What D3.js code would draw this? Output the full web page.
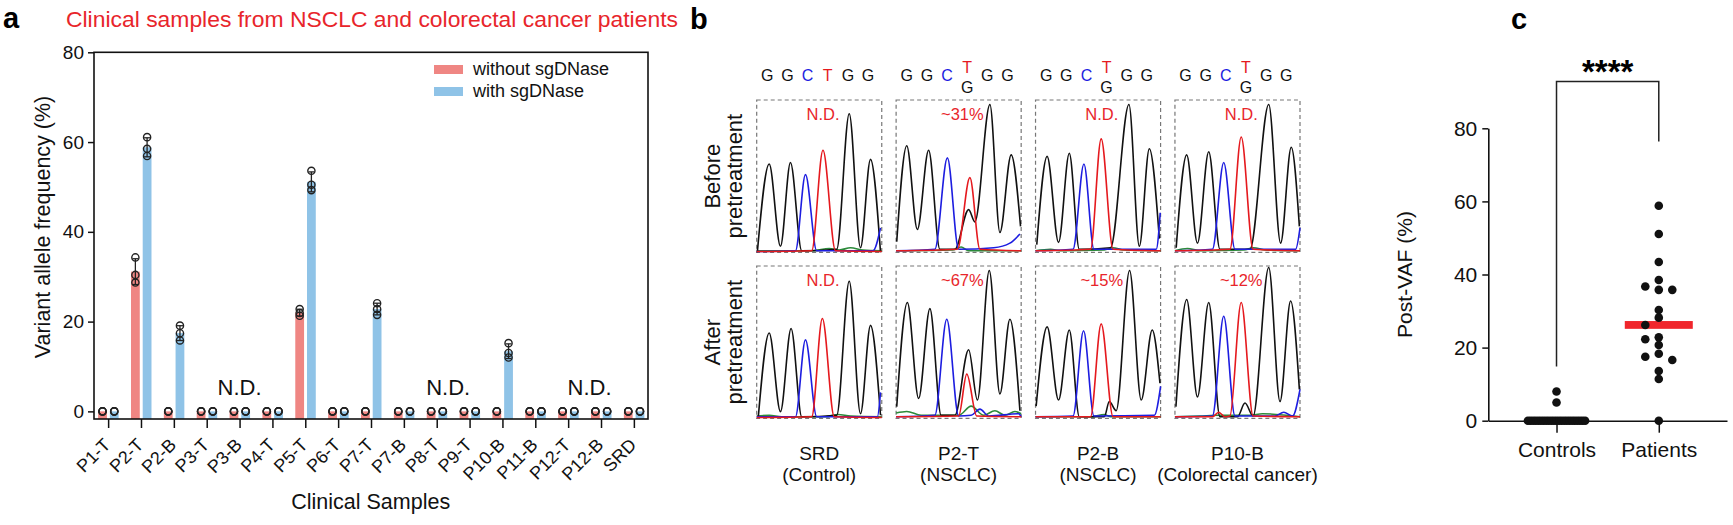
<!DOCTYPE html>
<html>
<head>
<meta charset="utf-8">
<script src="https://cdn.jsdelivr.net/npm/d3@7"></script>
<style>
  body { margin: 0; background: #fff; }
  svg { display: block; font-family: "Liberation Sans", Arial, sans-serif; }
</style>
</head>
<body>
<svg id="fig" width="1733" height="525"></svg>
<script>
// ---------- panel a data
const samples = ["P1-T","P2-T","P2-B","P3-T","P3-B","P4-T","P5-T","P6-T","P7-T","P7-B","P8-T","P9-T","P10-B","P11-B","P12-T","P12-B","SRD"];
const withoutSg = [[0,0,0],[34.3,30.4,28.7],[0,0,0],[0,0,0],[0,0,0],[0,0,0],[22.8,21.9,21.3],[0,0,0],[0,0,0],[0,0,0],[0,0,0],[0,0,0],[0,0,0],[0,0,0],[0,0,0],[0,0,0],[0,0,0]];
const withSg = [[0,0,0],[61.1,58.5,56.9],[19.1,17.4,15.8],[0,0,0],[0,0,0],[0,0,0],[53.6,50.5,49.3],[0,0,0],[24.1,22.8,21.5],[0,0,0],[0,0,0],[0,0,0],[15.2,13.0,12.0],[0,0,0],[0,0,0],[0,0,0],[0,0,0]];
const yTicksA = [0, 20, 40, 60, 80];
const ndAt = [4, 10.35, 14.65];   // N.D. labels, in sample-index units

// ---------- panel b data
const bSamples = ["SRD","P2-T","P2-B","P10-B"];
const bGroups = ["(Control)","(NSCLC)","(NSCLC)","(Colorectal cancer)"];
const refSeq = ["G","G","C","T","G","G"];
const altBase = [null,"G","G","G"];
const beforeVaf = ["N.D.","~31%","N.D.","N.D."];
const afterVaf = ["N.D.","~67%","~15%","~12%"];

// traces: [x fraction of box, height fraction of box]
const traceSRDBefore = {
  G: [[0.005,0],[0.10,0.58],[0.19,0.04],[0.27,0.59],[0.36,0.01],[0.64,0.02],[0.74,0.91],[0.83,0.03],[0.91,0.61],[0.99,0]],
  C: [[0,0.005],[0.31,0.01],[0.39,0.51],[0.48,0.01],[0.93,0.01],[0.99,0.16]],
  T: [[0,0.005],[0.44,0.01],[0.53,0.67],[0.63,0.01],[1,0.005]],
  A: [[0,0.01],[0.45,0.01],[0.58,0.025],[0.66,0.015],[0.75,0.03],[0.85,0.015],[1,0.01]]
};
const traceP2TBefore = {
  G: [[0.005,0.07],[0.085,0.70],[0.17,0.15],[0.26,0.67],[0.35,0.02],[0.47,0.02],[0.58,0.28],[0.63,0.2],[0.75,0.97],[0.83,0.13],[0.92,0.64],[0.995,0.17]],
  C: [[0,0.01],[0.31,0.02],[0.41,0.62],[0.5,0.02],[0.78,0.03],[0.91,0.06],[0.99,0.12]],
  T: [[0,0.01],[0.49,0.02],[0.59,0.49],[0.67,0.02],[1,0.01]],
  A: [[0,0.01],[0.45,0.015],[0.52,0.035],[0.58,0.01],[1,0.01]]
};
const traceP2BBefore = {
  G: [[0.01,0.05],[0.093,0.63],[0.184,0.065],[0.27,0.65],[0.35,0.02],[0.6,0.03],[0.747,0.97],[0.83,0.04],[0.91,0.68],[0.99,0.09]],
  C: [[0,0.01],[0.3,0.02],[0.387,0.58],[0.467,0.02],[0.965,0.02],[0.997,0.26]],
  T: [[0,0.01],[0.44,0.02],[0.525,0.745],[0.62,0.02],[1,0.01]],
  A: [[0,0.01],[0.12,0.02],[0.2,0.01],[0.55,0.015],[0.62,0.03],[0.7,0.015],[1,0.01]]
};
const traceP10BBefore = {
  G: [[0.01,0.03],[0.094,0.64],[0.18,0.06],[0.27,0.66],[0.36,0.02],[0.6,0.02],[0.75,0.97],[0.845,0.06],[0.93,0.69],[0.995,0.17]],
  C: [[0,0.01],[0.30,0.02],[0.39,0.59],[0.48,0.02],[0.965,0.02],[1,0.16]],
  T: [[0,0.01],[0.44,0.02],[0.53,0.757],[0.625,0.02],[1,0.01]],
  A: [[0,0.01],[0.1,0.025],[0.2,0.01],[0.55,0.015],[0.63,0.03],[0.72,0.015],[1,0.01]]
};
const traceSRDAfter = {
  G: [[0.013,0.01],[0.10,0.56],[0.19,0.044],[0.275,0.59],[0.36,0.01],[0.64,0.02],[0.74,0.90],[0.83,0.03],[0.91,0.61],[0.99,0.02]],
  C: [[0,0.01],[0.31,0.01],[0.39,0.515],[0.48,0.01],[0.965,0.01],[0.99,0.17]],
  T: [[0,0.005],[0.44,0.01],[0.525,0.655],[0.62,0.01],[1,0.005]],
  A: [[0,0.015],[0.1,0.02],[0.2,0.01],[0.55,0.01],[0.65,0.025],[0.75,0.015],[1,0.01]]
};
const traceP2TAfter = {
  G: [[0.005,0.077],[0.09,0.76],[0.18,0.13],[0.27,0.72],[0.36,0.02],[0.47,0.02],[0.58,0.45],[0.65,0.12],[0.745,0.97],[0.83,0.16],[0.91,0.65],[0.99,0.05]],
  C: [[0,0.01],[0.31,0.02],[0.405,0.65],[0.5,0.015],[0.6,0.02],[0.67,0.06],[0.74,0.015],[0.98,0.03],[1,0.01]],
  T: [[0,0.01],[0.5,0.015],[0.565,0.29],[0.645,0.015],[1,0.01]],
  A: [[0,0.035],[0.085,0.045],[0.2,0.02],[0.5,0.02],[0.60,0.08],[0.70,0.02],[0.79,0.05],[0.87,0.02],[0.95,0.045],[1,0.03]]
};
const traceP2BAfter = {
  G: [[0.005,0.08],[0.093,0.60],[0.184,0.12],[0.27,0.58],[0.35,0.01],[0.55,0.01],[0.59,0.11],[0.645,0.05],[0.752,0.97],[0.845,0.12],[0.933,0.58],[0.995,0.23]],
  C: [[0,0.01],[0.3,0.015],[0.384,0.575],[0.467,0.015],[0.95,0.02],[1,0.21]],
  T: [[0,0.01],[0.44,0.01],[0.525,0.62],[0.62,0.01],[1,0.01]],
  A: [[0,0.01],[0.45,0.01],[0.55,0.025],[0.6,0.01],[1,0.01]]
};
const traceP10BAfter = {
  G: [[0.008,0.077],[0.094,0.78],[0.18,0.14],[0.27,0.76],[0.36,0.01],[0.5,0.01],[0.56,0.10],[0.625,0.015],[0.75,0.99],[0.84,0.11],[0.925,0.77],[0.995,0.19]],
  C: [[0,0.01],[0.30,0.015],[0.39,0.67],[0.48,0.015],[0.8,0.015],[0.87,0.04],[0.94,0.015],[1,0.19]],
  T: [[0,0.01],[0.30,0.01],[0.35,0.04],[0.40,0.01],[0.44,0.015],[0.53,0.76],[0.625,0.015],[1,0.01]],
  A: [[0,0.01],[0.2,0.015],[0.35,0.02],[0.6,0.02],[0.7,0.03],[1,0.01]]
};

// ---------- panel c data
const groupsC = ["Controls","Patients"];
const controls = [8,5,0,0,0,0,0,0,0,0,0,0,0,0,0,0,0,0,0,0,0,0,0,0,0];
const patients = [58.8,51.1,43.4,38.5,36.7,35.8,35.8,30.3,28.2,26.2,22.8,22.3,20.7,18.3,17.5,16.6,13.6,11.4,0];
const yTicksC = [0, 20, 40, 60, 80];

const pink = "#ef8683", blue = "#8fc3e7", red = "#e8252b";
const svg = d3.select("#fig");

function styleAxis(g, size) {
  g.attr("font-family", null).attr("font-size", size);
  g.selectAll(".tick line").attr("stroke", "#111").attr("stroke-width", 1.5);
  g.selectAll(".tick text").attr("fill", "#111");
}

// ================= panel a
const xA = d3.scalePoint().domain(samples).range([94, 648]).padding(0.43);
const yA = d3.scaleLinear().domain([-1.7, 80]).range([419, 52.3]);
const xSub = d3.scaleBand().domain(["without","with"]).range([-10, 10.5]).paddingInner(0.25);
const seriesA = [
  {key: "without", vals: withoutSg, color: pink},
  {key: "with", vals: withSg, color: blue}
];

const gA = svg.append("g");
gA.append("text").attr("x", 3).attr("y", 28).attr("font-size", 29).attr("font-weight", "bold").text("a");
gA.append("text").attr("x", 66).attr("y", 27).attr("font-size", 22.9).attr("fill", red)
  .text("Clinical samples from NSCLC and colorectal cancer patients");

seriesA.forEach(s => {
  const g = gA.append("g");
  samples.forEach((name, i) => {
    const v = s.vals[i], m = d3.mean(v), sd = d3.deviation(v);
    const cx = xA(name) + xSub(s.key) + xSub.bandwidth() / 2;
    g.append("rect")
      .attr("x", xA(name) + xSub(s.key)).attr("width", xSub.bandwidth())
      .attr("y", yA(m)).attr("height", yA(-1.7) - yA(m))
      .attr("fill", s.color);
    if (sd > 0) {
      g.append("line").attr("x1", cx).attr("x2", cx).attr("y1", yA(m - sd)).attr("y2", yA(m + sd))
        .attr("stroke", "#222").attr("stroke-width", 1.3);
      [m - sd, m + sd].forEach(e => g.append("line")
        .attr("x1", cx - 3).attr("x2", cx + 3).attr("y1", yA(e)).attr("y2", yA(e))
        .attr("stroke", "#222").attr("stroke-width", 1.3));
    }
    g.selectAll(null).data(v).join("circle")
      .attr("cx", cx).attr("cy", d => yA(d)).attr("r", 3.6)
      .attr("fill", "none").attr("stroke", "#222").attr("stroke-width", 1.4);
  });
});

gA.append("rect")
  .attr("x", 94).attr("y", yA(80)).attr("width", 648 - 94).attr("height", yA(-1.7) - yA(80))
  .attr("fill", "none").attr("stroke", "#111").attr("stroke-width", 1.6);

gA.append("g").attr("transform", "translate(94,0)")
  .call(d3.axisLeft(yA).tickValues(yTicksA).tickSize(6).tickPadding(4))
  .call(g => g.select(".domain").remove())
  .call(g => styleAxis(g, 19));

gA.append("g").attr("transform", `translate(0,${yA(-1.7)})`)
  .call(d3.axisBottom(xA).tickSize(9))
  .call(g => g.select(".domain").remove())
  .call(g => styleAxis(g, 18))
  .call(g => g.selectAll(".tick text")
    .attr("text-anchor", "end").attr("dy", null).attr("y", null)
    .attr("transform", "translate(3,27) rotate(-45)"));

const ndX = d3.scaleLinear().domain([0, samples.length - 1]).range([xA(samples[0]), xA(samples[samples.length - 1])]);
gA.selectAll(".nd").data(ndAt).join("text")
  .attr("x", d => ndX(d)).attr("y", 395).attr("text-anchor", "middle")
  .attr("font-size", 22).attr("fill", "#111").text("N.D.");

// legend
const legA = gA.append("g").attr("transform", "translate(434,65)");
seriesA.forEach((s, i) => {
  legA.append("rect").attr("x", 0).attr("y", i * 22).attr("width", 29).attr("height", 9).attr("fill", s.color);
  legA.append("text").attr("x", 39).attr("y", i * 22 + 10).attr("font-size", 18).attr("fill", "#111")
    .text(s.key === "without" ? "without sgDNase" : "with sgDNase");
});

gA.append("text").attr("transform", "translate(50,227) rotate(-90)").attr("text-anchor", "middle")
  .attr("font-size", 21.5).attr("fill", "#111").text("Variant allele frequency (%)");
gA.append("text").attr("x", xA("P8-T") - 66).attr("y", 509).attr("text-anchor", "middle")
  .attr("font-size", 21.5).attr("fill", "#111").text("Clinical Samples");

// ================= panel b
const colB = d3.scaleBand().domain(bSamples).range([756.7, 1300]).paddingInner(0.103);
const rowB = d3.scaleBand().domain(["Before","After"]).range([100, 418.3]).paddingInner(0.0825);
const letterPos = d3.scalePoint().domain(d3.range(refSeq.length)).range([0.085, 0.89]);
const baseColor = {G: "#111", C: "#1d1de0", T: "#e5191e", A: "#2b8a3a"};
const traces = {
  Before: [traceSRDBefore, traceP2TBefore, traceP2BBefore, traceP10BBefore],
  After: [traceSRDAfter, traceP2TAfter, traceP2BAfter, traceP10BAfter]
};
const vafText = {Before: beforeVaf, After: afterVaf};

const gB = svg.append("g");
gB.append("text").attr("x", 690).attr("y", 29).attr("font-size", 29).attr("font-weight", "bold").text("b");

bSamples.forEach((name, i) => {
  const x0 = colB(name), bw = colB.bandwidth();
  const xT = d3.scaleLinear().domain([0, 1]).range([x0, x0 + bw]);

  // sequence above
  refSeq.forEach((b, k) => {
    const lx = xT(letterPos(k));
    if (altBase[i] && b === "T") {
      gB.append("text").attr("x", lx).attr("y", 73).attr("text-anchor", "middle")
        .attr("font-size", 16).attr("fill", baseColor.T).text("T");
      gB.append("text").attr("x", lx).attr("y", 93).attr("text-anchor", "middle")
        .attr("font-size", 16).attr("fill", baseColor[altBase[i]]).text(altBase[i]);
    } else {
      gB.append("text").attr("x", lx).attr("y", 81).attr("text-anchor", "middle")
        .attr("font-size", 16).attr("fill", baseColor[b]).text(b);
    }
  });

  rowB.domain().forEach(row => {
    const y0 = rowB(row), bh = rowB.bandwidth();
    const yT = d3.scaleLinear().domain([0, 1]).range([y0 + bh, y0]);
    const line = d3.line().x(d => xT(d[0])).y(d => yT(d[1])).curve(d3.curveMonotoneX);
    gB.append("rect").attr("x", x0).attr("y", y0).attr("width", bw).attr("height", bh)
      .attr("fill", "none").attr("stroke", "#777").attr("stroke-width", 1.2).attr("stroke-dasharray", "4,3");
    const tr = traces[row][i];
    ["A", "G", "C", "T"].forEach(ch => {
      gB.append("path").datum(tr[ch]).attr("d", line)
        .attr("fill", "none").attr("stroke", baseColor[ch]).attr("stroke-width", 1.6);
    });
    gB.append("text").attr("x", xT(0.53)).attr("y", y0 + 20).attr("text-anchor", "middle")
      .attr("font-size", 16.5).attr("fill", red).text(vafText[row][i]);
  });

  const cx = x0 + bw / 2;
  gB.append("text").attr("x", cx).attr("y", 460).attr("text-anchor", "middle")
    .attr("font-size", 19).attr("fill", "#111").text(name);
  gB.append("text").attr("x", cx).attr("y", 481).attr("text-anchor", "middle")
    .attr("font-size", 19).attr("fill", "#111").text(bGroups[i]);
});

rowB.domain().forEach(row => {
  const cy = rowB(row) + rowB.bandwidth() / 2;
  const t = gB.append("text").attr("transform", `translate(711,${cy}) rotate(-90)`)
    .attr("text-anchor", "middle").attr("font-size", 22).attr("fill", "#111");
  t.append("tspan").attr("x", 0).attr("dy", 9).text(row);
  t.append("tspan").attr("x", 0).attr("dy", 22).text("pretreatment");
});

// ================= panel c
const xC = d3.scalePoint().domain(groupsC).range([1488.3, 1727]).padding(0.667);
const yC = d3.scaleLinear().domain([0, 80]).range([420.7, 128.3]);

function swarm(vals, step, minD) {
  const placed = [];
  return vals.slice().sort((a, b) => b - a).map(v => {
    const y = yC(v);
    for (let k = 0; k < 200; k++) {
      const m = Math.ceil(k / 2);
      const off = k === 0 ? 0 : (k % 2 ? -m : m) * step;
      if (!placed.some(p => Math.hypot(p.dx - off, p.y - y) < minD)) {
        const p = {v, y, dx: off};
        placed.push(p);
        return p;
      }
    }
  });
}

const gC = svg.append("g");
gC.append("text").attr("x", 1511).attr("y", 29).attr("font-size", 29).attr("font-weight", "bold").text("c");

// significance bracket
const bx1 = xC("Controls"), bx2 = xC("Patients");
gC.append("path")
  .attr("d", `M${bx1},${yC(14.8)}V${yC(92.8)}H${bx2}V${yC(76.4)}`)
  .attr("fill", "none").attr("stroke", "#222").attr("stroke-width", 1.5);
gC.append("text").attr("x", (bx1 + bx2) / 2).attr("y", 83).attr("text-anchor", "middle")
  .attr("font-size", 33).attr("font-weight", "bold").text("****");

gC.append("g").attr("transform", "translate(1488.3,0)")
  .call(d3.axisLeft(yC).tickValues(yTicksC).tickSize(6).tickSizeOuter(0).tickPadding(5))
  .call(g => g.select(".domain").attr("stroke", "#111").attr("stroke-width", 1.6))
  .call(g => styleAxis(g, 21));
gC.append("g").attr("transform", `translate(0,${yC(0)})`)
  .call(d3.axisBottom(xC).tickSize(12).tickSizeOuter(0).tickPadding(9))
  .call(g => g.select(".domain").attr("stroke", "#111").attr("stroke-width", 1.6))
  .call(g => styleAxis(g, 21));

const med = d3.median(patients);
gC.append("rect").attr("x", bx2 - 34).attr("y", yC(med) - 3.9).attr("width", 68).attr("height", 7.8).attr("fill", "#f0262c");

[[controls, "Controls", 2.6, 2.5], [patients, "Patients", 13.5, 7.5]].forEach(([vals, grp, step, minD]) => {
  gC.selectAll(null).data(swarm(vals, step, minD)).join("circle")
    .attr("cx", d => xC(grp) + d.dx).attr("cy", d => d.y).attr("r", 4.3).attr("fill", "#111");
});

gC.append("text").attr("transform", `translate(1412,${(yC(0) + yC(80)) / 2}) rotate(-90)`)
  .attr("text-anchor", "middle").attr("font-size", 21).attr("fill", "#111").text("Post-VAF (%)");
</script>
</body>
</html>
